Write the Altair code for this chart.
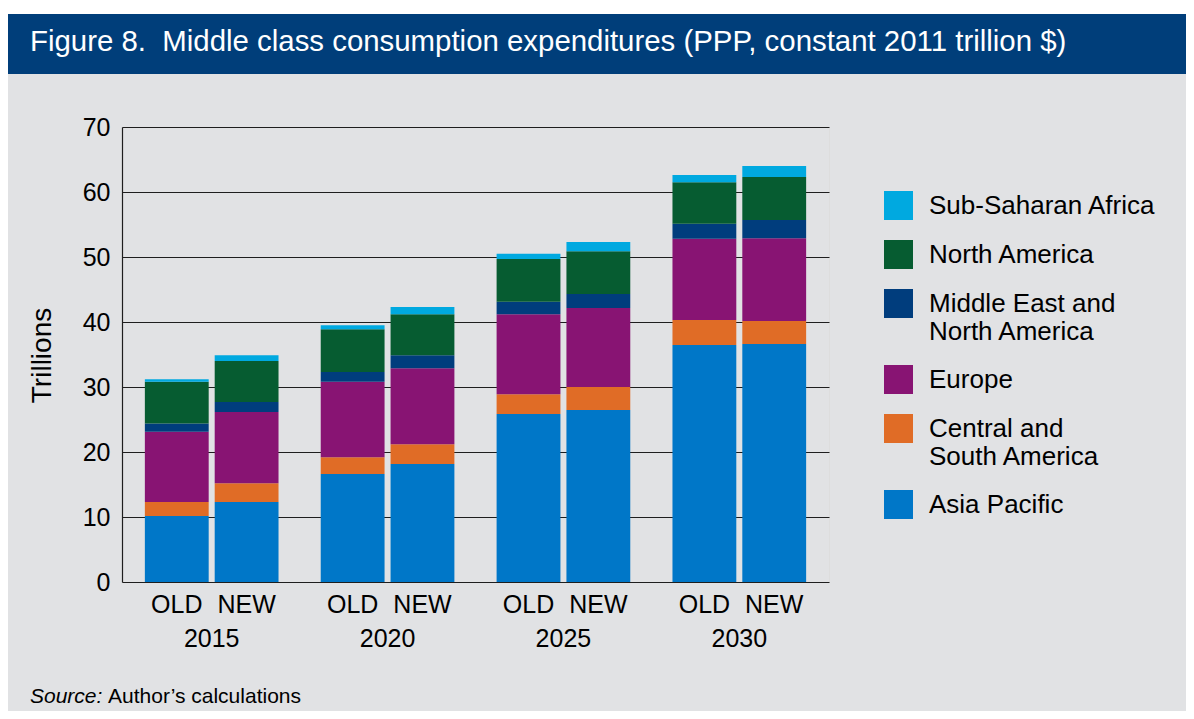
import altair as alt
import pandas as pd

years = ["2015", "2020", "2025", "2030"]
versions = ["OLD", "NEW"]
# stack order: bottom to top
regions = ["Asia Pacific", "Central and South America", "Europe",
           "Middle East and North America", "North America", "Sub-Saharan Africa"]
colors = ["#0077C8", "#E06C26", "#881473", "#003D7D", "#065C31", "#00A9E0"]

asia_old = [10.15, 16.6, 25.85, 36.45]
asia_new = [12.3, 18.15, 26.45, 36.6]
csa_old = [2.15, 2.6, 3.05, 3.85]
csa_new = [2.9, 3.05, 3.55, 3.55]
eur_old = [10.8, 11.6, 12.3, 12.5]
eur_new = [10.95, 11.7, 12.15, 12.75]
mena_old = [1.3, 1.5, 1.9, 2.3]
mena_new = [1.55, 2.0, 2.15, 2.8]
na_old = [6.4, 6.6, 6.6, 6.4]
na_new = [6.3, 6.3, 6.6, 6.6]
ssa_old = [0.4, 0.6, 0.8, 1.1]
ssa_new = [0.9, 1.1, 1.4, 1.7]

series = {
    "Asia Pacific": (asia_old, asia_new),
    "Central and South America": (csa_old, csa_new),
    "Europe": (eur_old, eur_new),
    "Middle East and North America": (mena_old, mena_new),
    "North America": (na_old, na_new),
    "Sub-Saharan Africa": (ssa_old, ssa_new),
}

rows = []
for ri, r in enumerate(regions):
    old, new = series[r]
    for yi, y in enumerate(years):
        rows.append({"year": y, "version": "OLD", "region": r, "value": old[yi], "ord": ri})
        rows.append({"year": y, "version": "NEW", "region": r, "value": new[yi], "ord": ri})
df = pd.DataFrame(rows)
lab_df = pd.DataFrame([{"year": y, "version": v} for y in years for v in versions])
one = pd.DataFrame({"a": [0]})

FONT = "Liberation Sans, Arial, sans-serif"
BG = "#E1E2E4"
BANNER = "#003E7A"

legend_order = list(reversed(regions))
legend_colors = list(reversed(colors))

xenc = alt.X("year:N", sort=years,
             scale=alt.Scale(paddingInner=0.24, paddingOuter=0.13),
             axis=alt.Axis(title=None, labelAngle=0, domain=False, ticks=False,
                           labelFontSize=25, labelPadding=56, labelBaseline="middle",
                           labelColor="#000000", grid=False))
xoff = alt.XOffset("version:N", sort=versions,
                   scale=alt.Scale(paddingInner=0.086, paddingOuter=0))

bars = alt.Chart(df).mark_bar().encode(
    x=xenc,
    xOffset=xoff,
    y=alt.Y("value:Q", stack="zero",
            scale=alt.Scale(domain=[0, 70], nice=False),
            axis=alt.Axis(values=[0, 10, 20, 30, 40, 50, 60, 70], grid=True,
                          gridColor="#1E1E1E", gridWidth=1.2, domain=True,
                          domainColor="#1E1E1E", domainWidth=1.2, ticks=False,
                          labelFontSize=25, labelPadding=12, labelColor="#000000",
                          title="Trillions", titleFontSize=28, titleFontWeight="normal",
                          titleColor="#000000", titleX=-80, titleY=228,
                          titleAlign="center", titleBaseline="middle", titleAngle=270)),
    color=alt.Color("region:N",
                    scale=alt.Scale(domain=legend_order, range=legend_colors),
                    legend=alt.Legend(orient="none", legendX=762, legendY=64, title=None,
                                      symbolType="square", symbolSize=841,
                                      symbolStrokeWidth=0, labelFontSize=26,
                                      labelColor="#000000", labelOffset=16,
                                      rowPadding=20, padding=0, labelLimit=400,
                                      labelExpr="datum.label == 'Middle East and North America' ? ['Middle East and', 'North America'] : datum.label == 'Central and South America' ? ['Central and', 'South America'] : datum.label")),
    order=alt.Order("ord:Q", sort="ascending"),
)

ver_text = alt.Chart(lab_df).mark_text(fontSize=25, baseline="middle", align="center",
                                       color="#000000").encode(
    x=alt.X("year:N", sort=years), xOffset=alt.XOffset("version:N", sort=versions),
    y=alt.value(478), text="version:N")

white_strip = alt.Chart(one).mark_rect(color="#FFFFFF").encode(
    x=alt.value(-114), x2=alt.value(1064), y=alt.value(-119), y2=alt.value(-113))
banner = alt.Chart(one).mark_rect(color=BANNER).encode(
    x=alt.value(-114), x2=alt.value(1064), y=alt.value(-113), y2=alt.value(-53))
title = alt.Chart(one).mark_text(
    text="Figure 8.\u00a0 Middle class consumption expenditures (PPP, constant 2011 trillion $)",
    color="#FFFFFF", fontSize=29.4, align="left", baseline="alphabetic").encode(
    x=alt.value(-92), y=alt.value(-76))
src1 = alt.Chart(one).mark_text(text="Source:", fontStyle="italic", fontSize=21,
                                color="#000000", align="left", baseline="alphabetic").encode(
    x=alt.value(-92), y=alt.value(576))
src2 = alt.Chart(one).mark_text(text="Author\u2019s calculations", fontSize=21,
                                color="#000000", align="left", baseline="alphabetic").encode(
    x=alt.value(-14), y=alt.value(576))

chart = alt.layer(white_strip, banner, title, bars, ver_text, src1, src2).properties(
    width=707, height=455,
    autosize=alt.AutoSizeParams(type="none"),
    padding={"left": 114, "top": 119, "right": 357, "bottom": 129},
    background=BG,
).configure_view(strokeWidth=0).configure(font=FONT)

chart.save("out.html", embed_options={"renderer": "svg", "actions": False})
